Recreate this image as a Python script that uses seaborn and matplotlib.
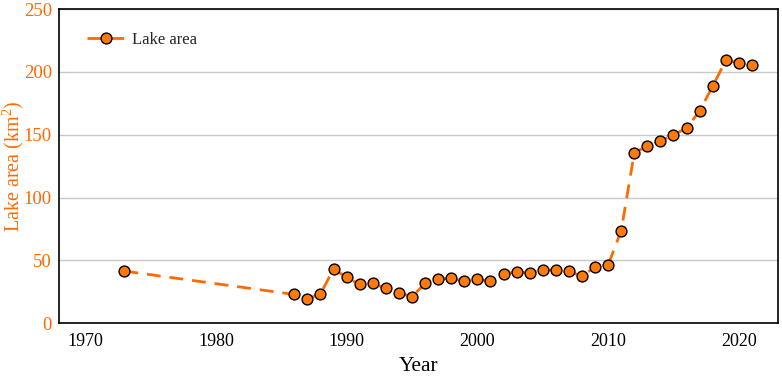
import matplotlib
matplotlib.use("Agg")
import matplotlib.pyplot as plt
import seaborn as sns
import pandas as pd
from matplotlib.ticker import MultipleLocator

years = [1973, 1986, 1987, 1988, 1989, 1990, 1991, 1992, 1993, 1994, 1995,
         1996, 1997, 1998, 1999, 2000, 2001, 2002, 2003, 2004, 2005, 2006,
         2007, 2008, 2009, 2010, 2011, 2012, 2013, 2014, 2015, 2016, 2017,
         2018, 2019, 2020, 2021]
area = [41.4, 22.8, 19.4, 23.1, 43.2, 36.4, 30.8, 31.6, 27.6, 24.2, 21.0,
        31.6, 35.3, 35.6, 33.4, 35.0, 33.2, 38.8, 40.9, 39.8, 42.2, 42.5,
        41.4, 37.2, 44.8, 46.4, 73.5, 135.6, 140.9, 144.9, 149.9, 155.3, 169.0,
        188.7, 209.2, 207.3, 205.4]
series_name = "Lake area"
xticks = [1970, 1980, 1990, 2000, 2010, 2020]
yticks = [0, 50, 100, 150, 200, 250]

df = pd.DataFrame({"Year": years, "Area": area})

sns.set_style("white")
plt.rcParams["font.family"] = ["Liberation Serif", "DejaVu Serif"]
plt.rcParams["mathtext.fontset"] = "custom"
plt.rcParams["mathtext.rm"] = "Liberation Serif"

orange = "#FF6A00"
fig = plt.figure(figsize=(7.82, 3.81), dpi=100)
ax = fig.add_axes([0.0754, 0.152, 0.9196, 0.824])

sns.lineplot(data=df, x="Year", y="Area", ax=ax, color=orange, linewidth=2.0,
             linestyle=(0, (5, 3.2)), marker="o", markersize=7.8,
             markerfacecolor="#FF7A0A", markeredgecolor="black",
             markeredgewidth=1.0, label=series_name)

ax.set_xlim(1968, 2023)
ax.set_ylim(0, 250)
ax.set_xticks(xticks)
ax.set_yticks(yticks)
ax.xaxis.set_minor_locator(MultipleLocator(5))
ax.tick_params(axis="x", which="major", direction="in", length=6, width=1.2,
               labelsize=13, colors="black", pad=7)
ax.tick_params(axis="x", which="minor", direction="in", length=4, width=1.2)
ax.tick_params(axis="y", which="both", length=0, labelsize=13.5,
               labelcolor=orange, pad=5)
ax.yaxis.grid(True, color="#c8c8c8", linewidth=1.0)
ax.xaxis.grid(False)
for s in ax.spines.values():
    s.set_color("black")
    s.set_linewidth(1.2)

ax.set_xlabel("Year", fontsize=15.5, color="black", labelpad=5)
ax.set_ylabel("Lake area (km$^2$)", fontsize=14.5, color=orange)
ax.yaxis.set_label_coords(-0.046, 0.5)

leg = ax.legend(loc="upper left", frameon=False, fontsize=12,
                bbox_to_anchor=(0.018, 0.975), handlelength=2.3,
                handletextpad=0.4)

fig.savefig("out.png", dpi=100)
